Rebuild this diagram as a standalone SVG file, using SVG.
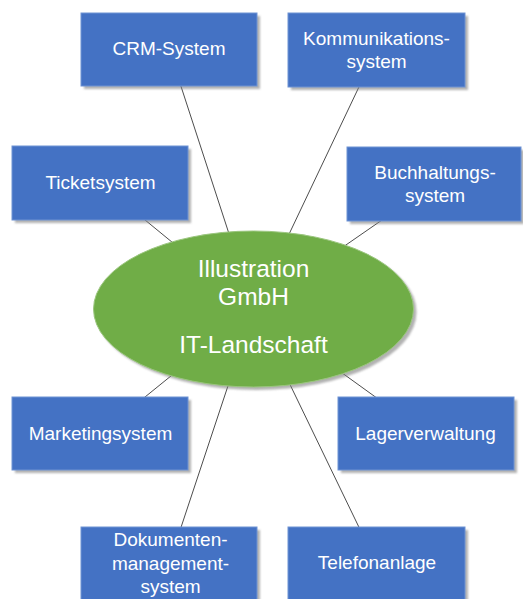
<svg xmlns="http://www.w3.org/2000/svg" width="523" height="599" viewBox="0 0 523 599">
<defs>
<filter id="sh" x="-10%" y="-10%" width="130%" height="140%">
<feGaussianBlur stdDeviation="1.3"/>
</filter>
<style>
.box{fill:#4472C4;stroke:#6F93D3;stroke-width:1}
.shd{fill:#7f7f7f;opacity:0.6;filter:url(#sh)}
.t{font-family:"Liberation Sans",Arial,sans-serif;font-size:19px;fill:#FFFFFF;text-anchor:middle}
.tc{font-family:"Liberation Sans",Arial,sans-serif;font-size:24.5px;fill:#FFFFFF;text-anchor:middle}
.ln{stroke:#4d4d4d;stroke-width:1;fill:none}
</style>
</defs>
<rect width="523" height="599" fill="#FFFFFF"/>
<g id="connectors">
<line class="ln" x1="253.5" y1="309" x2="169" y2="49.5"/>
<line class="ln" x1="253.5" y1="309" x2="376.5" y2="50"/>
<line class="ln" x1="253.5" y1="309" x2="100" y2="183"/>
<line class="ln" x1="253.5" y1="309" x2="434" y2="184"/>
<line class="ln" x1="253.5" y1="309" x2="100" y2="433.5"/>
<line class="ln" x1="253.5" y1="309" x2="426" y2="433.5"/>
<line class="ln" x1="253.5" y1="309" x2="169" y2="563.5"/>
<line class="ln" x1="253.5" y1="309" x2="376.5" y2="563.5"/>
</g>
<g id="center">
<ellipse cx="256.5" cy="312" rx="160" ry="78" class="shd"/>
<ellipse cx="253.5" cy="309" rx="160" ry="78" fill="#70AD47" stroke="#9BC67F" stroke-width="1"/>
<text class="tc" x="253.5" y="276.5">Illustration</text>
<text class="tc" x="253.5" y="305">GmbH</text>
<text class="tc" x="253.5" y="353">IT-Landschaft</text>
</g>
<g id="crm">
<rect class="shd" x="84" y="16" width="176" height="73"/>
<rect class="box" x="81" y="13" width="176" height="73"/>
<text class="t" x="169" y="55">CRM-System</text>
</g>
<g id="kommunikation">
<rect class="shd" x="291" y="16" width="177" height="74"/>
<rect class="box" x="288" y="13" width="177" height="74"/>
<text class="t" x="376.5" y="45">Kommunikations-</text>
<text class="t" x="376.5" y="68">system</text>
</g>
<g id="ticket">
<rect class="shd" x="15" y="149" width="176" height="74"/>
<rect class="box" x="12" y="146" width="176" height="74"/>
<text class="t" x="100.5" y="189">Ticketsystem</text>
</g>
<g id="buchhaltung">
<rect class="shd" x="350" y="150" width="174" height="74"/>
<rect class="box" x="347" y="147" width="174" height="74"/>
<text class="t" x="435" y="178.5">Buchhaltungs-</text>
<text class="t" x="435" y="202">system</text>
</g>
<g id="marketing">
<rect class="shd" x="15" y="400" width="176" height="73"/>
<rect class="box" x="12" y="397" width="176" height="73"/>
<text class="t" x="100.5" y="440">Marketingsystem</text>
</g>
<g id="lager">
<rect class="shd" x="341" y="400" width="176" height="73"/>
<rect class="box" x="338" y="397" width="176" height="73"/>
<text class="t" x="425.5" y="440">Lagerverwaltung</text>
</g>
<g id="dokumenten">
<rect class="shd" x="84" y="530" width="176" height="73"/>
<rect class="box" x="81" y="527" width="176" height="73"/>
<text class="t" x="170.5" y="546">Dokumenten-</text>
<text class="t" x="170.5" y="569.5">management-</text>
<text class="t" x="170.5" y="593">system</text>
</g>
<g id="telefon">
<rect class="shd" x="291" y="530" width="177" height="73"/>
<rect class="box" x="288" y="527" width="177" height="73"/>
<text class="t" x="377" y="569">Telefonanlage</text>
</g>
</svg>
